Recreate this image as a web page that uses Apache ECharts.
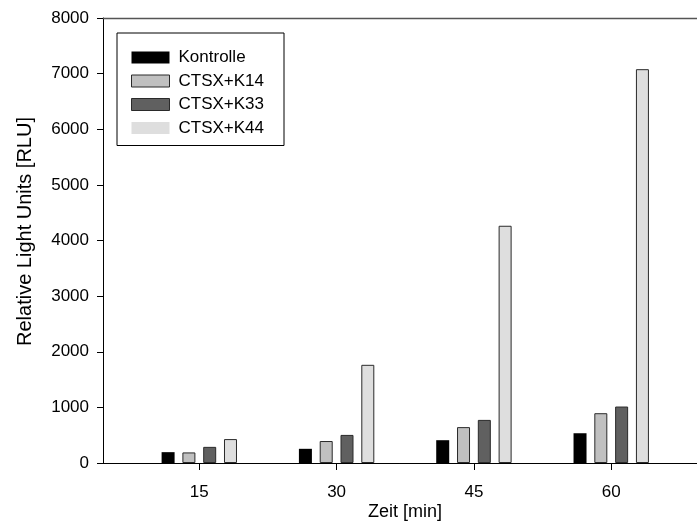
<!DOCTYPE html>
<html>
<head>
<meta charset="utf-8">
<script src="https://cdn.jsdelivr.net/npm/echarts@6/dist/echarts.min.js"></script>
<style>html,body{margin:0;padding:0;background:#fff;}#c{width:697px;height:521px;}</style>
</head>
<body>
<div id="c"></div>
<script>
const timePoints = [15, 30, 45, 60];
const seriesNames = ['Kontrolle', 'CTSX+K14', 'CTSX+K33', 'CTSX+K44'];
const kontrolle = [195, 255, 410, 535];
const k14 = [190, 395, 645, 895];
const k33 = [290, 505, 775, 1015];
const k44 = [430, 1765, 4265, 7080];
const yTicks = [0, 1000, 2000, 3000, 4000, 5000, 6000, 7000, 8000];

const values = [kontrolle, k14, k33, k44];
const fills = ['#000000', '#c0c0c0', '#606060', '#dedede'];
const FONT = 'Liberation Sans, Arial, sans-serif';

const chart = echarts.init(document.getElementById('c'));
const series = values.map((arr, i) => ({
  name: seriesNames[i],
  type: 'bar',
  xAxisIndex: 0,
  barWidth: 13,
  barGap: '60%',
  itemStyle: { color: fills[i], borderColor: '#2a2a2a', borderWidth: i === 0 ? 0 : 1 },
  emphasis: { disabled: true },
  data: arr.map((v, j) => [timePoints[j], v])
}));

chart.setOption({
  animation: false,
  grid: { left: 103, right: 0, top: 18, bottom: 58, containLabel: false, outerBoundsMode: 'none' },
  legend: {
    orient: 'vertical',
    left: 117,
    top: 33,
    padding: [16, 20, 9, 14],
    borderColor: '#000',
    borderWidth: 1,
    itemWidth: 38,
    itemHeight: 12,
    itemGap: 6.5,
    selectedMode: false,
    textStyle: { fontFamily: FONT, fontSize: 17, color: '#000', lineHeight: 16, padding: [0, 0, 0, 4] },
    data: seriesNames.map((n, i) => ({
      name: n,
      icon: 'rect',
      itemStyle: { color: fills[i], borderColor: '#2a2a2a', borderWidth: (i === 1 || i === 2) ? 1 : 0 }
    }))
  },
  xAxis: [{
    type: 'value',
    min: 4.48,
    max: 69.37,
    name: 'Zeit [min]',
    nameLocation: 'middle',
    nameGap: 40,
    nameMoveOverlap: false,
    nameTextStyle: { fontFamily: FONT, fontSize: 18, color: '#000', padding: [0, 0, 0, 10] },
    splitLine: { show: false },
    axisLine: { show: true, lineStyle: { color: '#000', width: 1 } },
    axisTick: { show: true, length: 7, customValues: timePoints, lineStyle: { color: '#000' } },
    axisLabel: { customValues: timePoints, margin: 21, fontFamily: FONT, fontSize: 17, color: '#000' }
  }, {
    type: 'value',
    position: 'top',
    min: 4.48,
    max: 69.37,
    axisLine: { show: true, onZero: false, lineStyle: { color: '#555', width: 1.3 } },
    axisTick: { show: false },
    axisLabel: { show: false },
    splitLine: { show: false }
  }],
  yAxis: {
    type: 'value',
    min: 0,
    max: 8000,
    interval: 1000,
    name: 'Relative Light Units [RLU]',
    nameLocation: 'middle',
    nameGap: 68,
    nameMoveOverlap: false,
    nameTextStyle: { fontFamily: FONT, fontSize: 20, color: '#000', padding: [0, 0, 0, 18] },
    splitLine: { show: false },
    axisLine: { show: true, lineStyle: { color: '#000', width: 1 } },
    axisTick: { show: true, length: 6, lineStyle: { color: '#000' } },
    axisLabel: { margin: 14, fontFamily: FONT, fontSize: 17, color: '#000',
      formatter: v => yTicks.includes(v) ? String(v) : '' }
  },
  series: series
});
</script>
</body>
</html>
